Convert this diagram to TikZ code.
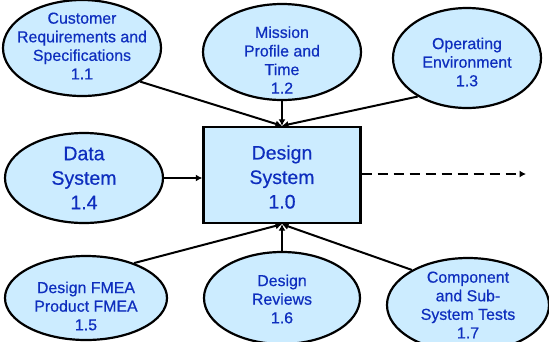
\documentclass[tikz,border=0pt]{standalone}
\usepackage{fontspec}
\setmainfont{Liberation Sans}
\newfontfamily\labelfont{Liberation Sans}[FakeBold=0.5]
\usetikzlibrary{arrows.meta,shapes.geometric}

\definecolor{bubblefill}{RGB}{204,236,255}
\definecolor{inktext}{RGB}{14,46,190}

\tikzset{
  bubble/.style={ellipse, draw=black, line width=2.2pt, fill=bubblefill, inner sep=0pt},
  core/.style={rectangle, draw=black, line width=2.4pt, fill=bubblefill,
    minimum width=157pt, minimum height=96pt, inner sep=0pt},
  smalltxt/.style={text=inktext, align=center, inner sep=0pt,
    font=\labelfont\fontsize{15.9}{18.6}\selectfont},
  bigtxt/.style={text=inktext, align=center, inner sep=0pt,
    font=\labelfont\fontsize{19.5}{24.5}\selectfont},
  flow/.style={line width=2pt, -{Latex[length=6.5pt,width=7pt]}},
  outflow/.style={line width=2pt, dash pattern=on 10pt off 6pt, -{Latex[length=6.5pt,width=7pt]}}
}

\begin{document}
\begin{tikzpicture}[x=1pt,y=-1pt]
\useasboundingbox (0,0) rectangle (549,341);

% central process
\node[core] (sys) at (282,175) {};
\node[bigtxt] (systxt) at (282,177) {Design\\System\\1.0};

% inputs above
\node[bubble, minimum width=158pt, minimum height=96pt] (n11) at (82,48) {};
\node[smalltxt] (t11) at (82,46) {Customer\\Requirements and\\Specifications\\1.1};

\node[bubble, minimum width=158pt, minimum height=96pt] (n12) at (282,52) {};
\node[smalltxt] (t12) at (282,60) {Mission\\Profile and\\Time\\1.2};

\node[bubble, minimum width=148pt, minimum height=100pt] (n13) at (467,58) {};
\node[smalltxt] (t13) at (467,62) {Operating\\Environment\\1.3};

% input at the side
\node[bubble, minimum width=158pt, minimum height=90pt] (n14) at (84,178) {};
\node[bigtxt] (t14) at (84,178) {Data\\System\\1.4};

% inputs below
\node[bubble, minimum width=162pt, minimum height=84pt] (n15) at (86,298) {};
\node[smalltxt] (t15) at (86,306) {Design FMEA\\Product FMEA\\1.5};

\node[bubble, minimum width=156pt, minimum height=92pt] (n16) at (282,298) {};
\node[smalltxt] (t16) at (282,299) {Design\\Reviews\\1.6};

\node[bubble, minimum width=162pt, minimum height=94pt] (n17) at (468,305) {};
\node[smalltxt] (t17) at (468,305) {Component\\and Sub-\\System Tests\\1.7};

% output
\coordinate (outend) at (526,174);

% connectors
\draw[flow] (n11.-30) -- (sys.north);
\draw[flow] (n12.south) -- (sys.north);
\draw[flow] (n13.218) -- (sys.north);
\draw[flow] (n14.east) -- (n14.east -| sys.west);
\draw[flow] (n15.36) -- (sys.south);
\draw[flow] (n16.north) -- (sys.south);
\draw[flow] (n17.148) -- (sys.south);
\draw[outflow] (sys.east |- outend) -- (outend);
\end{tikzpicture}
\end{document}
